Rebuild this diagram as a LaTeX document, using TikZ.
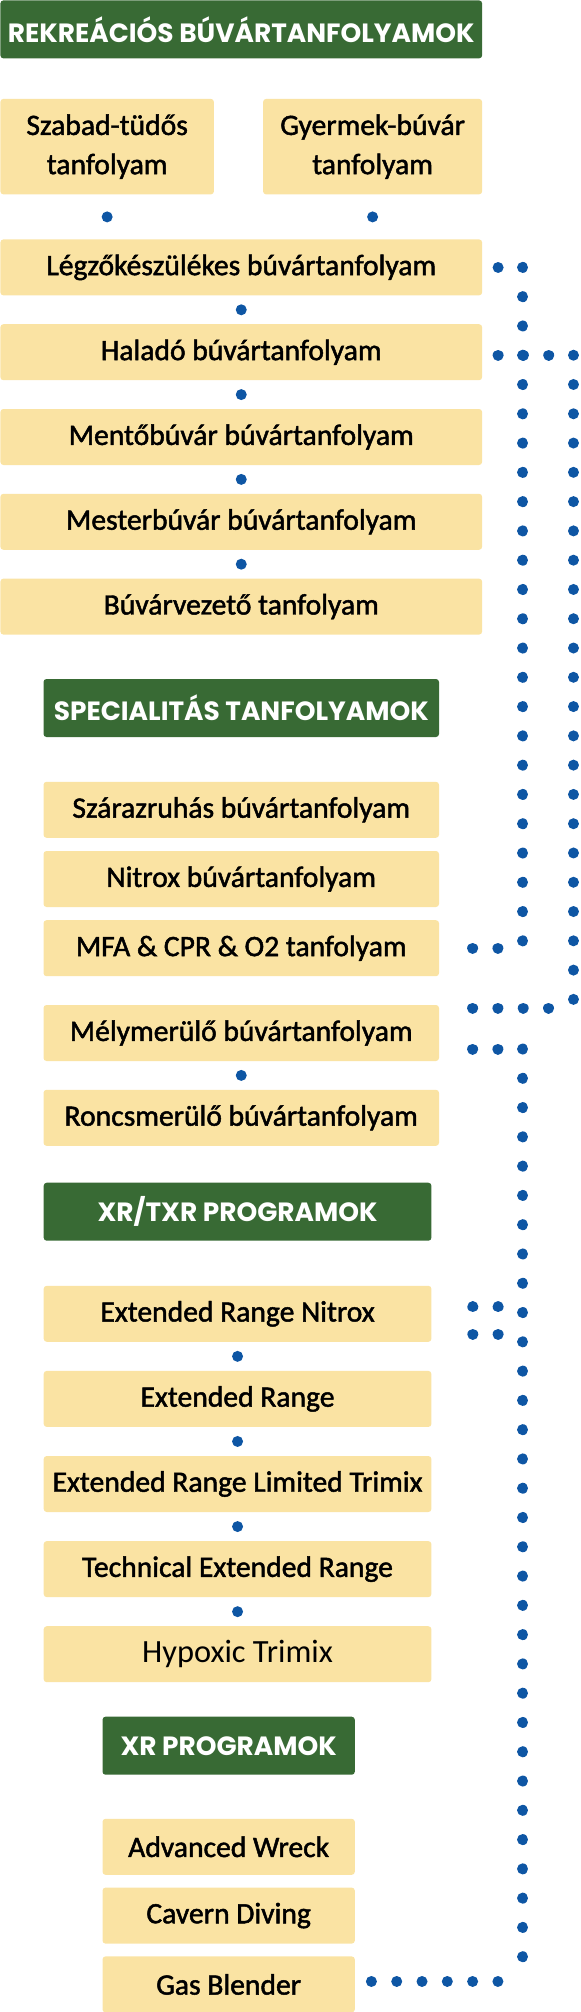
\documentclass[tikz,border=0pt]{standalone}
\usepackage{fontspec}
\setmainfont{Carlito}[FakeBold=1.6]
\newfontfamily\plainfont{Carlito}
\newfontfamily\headfont{Poppins}
\usetikzlibrary{positioning, decorations.markings}

\definecolor{headgreen}{RGB}{56,106,52}
\definecolor{boxyellow}{RGB}{250,227,163}
\definecolor{dotblue}{RGB}{14,86,164}

\tikzset{
  head/.style={fill=headgreen, text=white, rounded corners=1.5pt, minimum height=29pt, inner sep=0pt,
    font=\headfont\bfseries\fontsize{13.2}{14}\selectfont},
  course/.style={fill=boxyellow, rounded corners=1.5pt, minimum height=28pt, inner sep=0pt, align=center,
    font=\fontsize{14.8}{19.6}\selectfont},
  hdots/.style={dotblue, line width=5.5pt, line cap=round, dash pattern=on 0.01pt off 12.64pt},
  vdots/.style={dotblue, line width=5.5pt, line cap=round, dash pattern=on 0.01pt off 14.63pt},
  middot/.style={decorate, decoration={markings, mark=at position 0.5 with {\fill[dotblue] (0,0) circle (2.75pt);}}}
}

\begin{document}
\begin{tikzpicture}[x=0.5pt, y=-0.5pt]
\useasboundingbox (0,0) rectangle (580,2012);

% recreational courses
\node (rek) [head, anchor=north west, minimum width=240.85pt] at (0,0) {REKREÁCIÓS BÚVÁRTANFOLYAMOK};
\node (szabad) [course, anchor=north west, minimum width=106.75pt, minimum height=47.75pt] at (0,98.5) {Szabad-tüdős\\tanfolyam};
\node (gyermek) [course, anchor=north west, minimum width=109.5pt, minimum height=47.75pt] at (262.7,98.5) {Gyermek-búvár\\tanfolyam};
\node (legzo) [course, anchor=north west, minimum width=240.85pt] at (0,239) {Légzőkészülékes búvártanfolyam};
\node (halado) [course, minimum width=240.85pt, below=14pt of legzo] {Haladó búvártanfolyam};
\node (mento) [course, minimum width=240.85pt, below=14pt of halado] {Mentőbúvár búvártanfolyam};
\node (mester) [course, minimum width=240.85pt, below=14pt of mento] {Mesterbúvár búvártanfolyam};
\node (vezeto) [course, minimum width=240.85pt, below=14pt of mester] {Búvárvezető tanfolyam};

% specialty courses
\node (spec) [head, minimum width=197.75pt, below=21.8pt of vezeto] {SPECIALITÁS TANFOLYAMOK};
\node (szaraz) [course, minimum width=197.75pt, below=22pt of spec] {Szárazruhás búvártanfolyam};
\node (nitrox) [course, minimum width=197.75pt, below=6.2pt of szaraz] {Nitrox búvártanfolyam};
\node (mfa) [course, minimum width=197.75pt, below=6.2pt of nitrox] {MFA \& CPR \& O2 tanfolyam};
\node (mely) [course, minimum width=197.75pt, below=14pt of mfa] {Mélymerülő búvártanfolyam};
\node (roncs) [course, minimum width=197.75pt, below=14pt of mely] {Roncsmerülő búvártanfolyam};

% XR/TXR
\node (xrtxr) [head, anchor=north west, minimum width=193.85pt] at (43.3,1182.3) {XR/TXR PROGRAMOK};
\node (ern) [course, minimum width=193.85pt, below=22.15pt of xrtxr] {Extended Range Nitrox};
\node (er) [course, minimum width=193.85pt, below=14.15pt of ern] {Extended Range};
\node (erlt) [course, minimum width=193.85pt, below=14.15pt of er] {Extended Range Limited Trimix};
\node (ter) [course, minimum width=193.85pt, below=14.15pt of erlt] {Technical Extended Range};
\node (hypo) [course, minimum width=193.85pt, below=14.15pt of ter, font=\plainfont\fontsize{16.2}{19}\selectfont] {Hypoxic Trimix};

% XR
\node (xr) [head, anchor=north west, minimum width=126.15pt] at (102.1,1716.3) {XR PROGRAMOK};
\node (wreck) [course, minimum width=126.15pt, below=21.65pt of xr] {Advanced Wreck};
\node (cavern) [course, minimum width=126.15pt, below=6pt of wreck] {Cavern Diving};
\node (blender) [course, minimum width=126.15pt, below=6pt of cavern] {Gas Blender};

% single dots between boxes
\path[middot] (szabad.south) -- (szabad.south |- legzo.north);
\path[middot] (gyermek.south) -- (gyermek.south |- legzo.north);
\path[middot] (legzo) -- (halado);
\path[middot] (halado) -- (mento);
\path[middot] (mento) -- (mester);
\path[middot] (mester) -- (vezeto);
\path[middot] (mely) -- (roncs);
\path[middot] (ern) -- (er);
\path[middot] (er) -- (erlt);
\path[middot] (erlt) -- (ter);
\path[middot] (ter) -- (hypo);

% dotted lines on the right
\coordinate (colA) at (522.7,0);
\coordinate (colB) at (573.4,0);

\coordinate (l0) at ([xshift=7.8pt]legzo.east);
\coordinate (l1) at (legzo.east -| colA);
\coordinate (l2) at (mfa.east -| colA);
\coordinate (l3) at ([xshift=16.6pt]mfa.east);
\draw[hdots] (l0) -- (l1);
\draw[vdots] (l1) -- (l2);
\draw[hdots] (l3) -- (l2);

\coordinate (h0) at ([xshift=7.8pt, yshift=-1.5pt]halado.east);
\coordinate (h1) at (h0 -| colB);
\coordinate (h3) at ([xshift=16.6pt, yshift=12.5pt]mely.east);
\coordinate (h2) at (h3 -| colB);
\draw[hdots] (h0) -- (h1);
\draw[vdots] (h1) -- (h2);
\draw[hdots] (h3) -- (h2);

\coordinate (m0) at ([xshift=16.6pt, yshift=-8pt]mely.east);
\coordinate (m1) at (m0 -| colA);
\coordinate (m3) at ([xshift=8.1pt, yshift=1.5pt]blender.east);
\coordinate (m2) at (m3 -| colA);
\draw[hdots] (m0) -- (m1);
\draw[vdots] (m1) -- (m2);
\draw[hdots] (m3) -- (m2);

\coordinate (e0) at ([xshift=20.5pt, yshift=3.5pt]ern.east);
\coordinate (e1) at ([xshift=20.5pt, yshift=-10.25pt]ern.east);
\draw[hdots] (e0) -- (e0 -| colA);
\draw[hdots] (e1) -- (e1 -| colA);

\end{tikzpicture}
\end{document}
